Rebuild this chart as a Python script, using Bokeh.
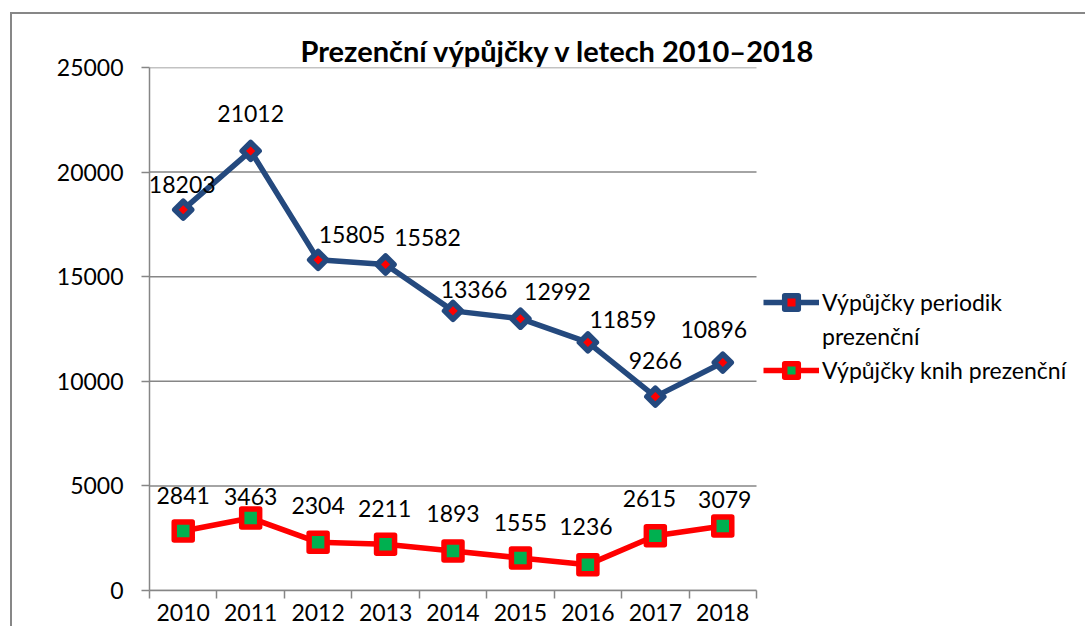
import math
from bokeh.plotting import figure
from bokeh.models import (ColumnDataSource, FixedTicker, LabelSet,
                          Legend, LegendItem, Range1d)
from bokeh.core.properties import value
from bokeh.embed import file_html
from bokeh.resources import INLINE

# ---------------- data ----------------
years = ["2010", "2011", "2012", "2013", "2014", "2015", "2016", "2017", "2018"]
periodika = [18203, 21012, 15805, 15582, 13366, 12992, 11859, 9266, 10896]
knihy = [2841, 3463, 2304, 2211, 1893, 1555, 1236, 2615, 3079]
y_ticks = [0, 5000, 10000, 15000, 20000, 25000]

title_text = "Prezenční výpůjčky v letech 2010–2018"
name_periodika = ["Výpůjčky periodik", "prezenční"]   # wrapped legend label
name_knihy = "Výpůjčky knih prezenční"

# ---------------- label placement (screen px, style only) ----------------
per_dx = [-1, 0, 34, 42, 21, 37, 35, 0, -9]
per_dy = [25, 37, 25, 27, 21, 27, 23, 36, 33]
kn_dx = [0, 0, 0, -1, 0, 0, -2, -6, 2]
kn_dy = [36, 22, 37, 36, 37, 35, 38, 37, 27]

FONT = "Lato"
FS = "23px"
GREY = "#868686"
BLUE = "#24497E"
RED = "#FF0000"
GREEN = "#00B050"

# layout (pixels)
W, H = 1075, 614
ML, MT, MB = 137, 53, 38
PLOT_W = 607            # width of the category area
FRAME_W = W - ML

n = len(years)
xpos = [i + 0.5 for i in range(n)]
x_end = n * FRAME_W / PLOT_W

src_p = ColumnDataSource(dict(x=xpos, y=periodika, t=[str(v) for v in periodika],
                              dx=per_dx, dy=per_dy))
src_k = ColumnDataSource(dict(x=xpos, y=knihy, t=[str(v) for v in knihy],
                              dx=kn_dx, dy=kn_dy))

p = figure(width=W, height=H, output_backend="svg", toolbar_location=None,
           x_range=Range1d(0, x_end), y_range=Range1d(0, 25000),
           min_border_left=ML, min_border_right=0, min_border_top=MT,
           min_border_bottom=MB)
p.margin = (12, 0, 0, 10)
# chart-area border: in the reference only its left and top edges are in view
p.styles = {"border-left": "2px solid #878787", "border-top": "2px solid #878787",
            "padding-right": "2px", "padding-bottom": "2px"}
p.outline_line_color = None
p.background_fill_color = "white"
p.border_fill_color = "white"

# title
p.title.text = title_text
p.title.text_font = FONT
p.title.text_font_size = "29px"
p.title.text_font_style = "bold"
p.title.text_color = "black"
p.title.align = "left"
p.title.offset = 151
p.title.standoff = 0

# y axis
p.yaxis.ticker = FixedTicker(ticks=y_ticks)
p.yaxis.axis_line_color = GREY
p.yaxis.axis_line_width = 1.5
p.yaxis.major_tick_line_color = GREY
p.yaxis.major_tick_line_width = 1.5
p.yaxis.major_tick_out = 8
p.yaxis.major_tick_in = 0
p.yaxis.minor_tick_line_color = None
p.yaxis.major_label_text_font = FONT
p.yaxis.major_label_text_font_size = FS
p.yaxis.major_label_text_color = "black"
p.yaxis.major_label_standoff = 18

# x axis: labels at category centres, ticks at category boundaries
p.xaxis.ticker = FixedTicker(ticks=xpos, minor_ticks=list(range(n + 1)))
p.xaxis.major_label_overrides = {x: y for x, y in zip(xpos, years)}
p.xaxis.bounds = (0, n)
p.xaxis.axis_line_color = GREY
p.xaxis.axis_line_width = 1.5
p.xaxis.major_tick_line_color = None
p.xaxis.major_tick_out = 0
p.xaxis.major_tick_in = 0
p.xaxis.minor_tick_line_color = GREY
p.xaxis.minor_tick_line_width = 1.5
p.xaxis.minor_tick_out = 8
p.xaxis.minor_tick_in = 0
p.xaxis.major_label_text_font = FONT
p.xaxis.major_label_text_font_size = FS
p.xaxis.major_label_text_color = "black"
p.xaxis.major_label_standoff = 5

# horizontal grid lines only across the category area
p.xgrid.grid_line_color = None
p.ygrid.grid_line_color = None
p.segment(x0=[0] * len(y_ticks), x1=[n] * len(y_ticks), y0=y_ticks, y1=y_ticks,
          line_color=GREY, line_width=1.5)

# series
l1 = p.line("x", "y", source=src_p, line_color=BLUE, line_width=5.5, line_join="round")
m1 = p.scatter("x", "y", source=src_p, marker="square", size=12, angle=math.pi / 4,
               fill_color=RED, line_color=BLUE, line_width=5.5, line_join="round")
l2 = p.line("x", "y", source=src_k, line_color=RED, line_width=5.5, line_join="round")
m2 = p.scatter("x", "y", source=src_k, marker="square", size=18,
               fill_color=GREEN, line_color=RED, line_width=5.5, line_join="round")

for src in (src_p, src_k):
    p.add_layout(LabelSet(x="x", y="y", text="t", x_offset="dx", y_offset="dy",
                          source=src, text_align="center", text_baseline="middle",
                          text_font=value(FONT), text_font_size=FS, text_color="black"))

legend = Legend(items=[LegendItem(label=name_periodika[0], renderers=[l1, m1]),
                       LegendItem(label=name_periodika[1], renderers=[]),
                       LegendItem(label=name_knihy, renderers=[l2, m2])],
                location=(614, 203))
legend.glyph_width = 56
legend.glyph_height = 34
legend.label_height = 27
legend.label_standoff = 3
legend.label_text_font = FONT
legend.label_text_font_size = FS
legend.label_text_color = "black"
legend.padding = 0
legend.margin = 0
legend.spacing = 0
legend.border_line_color = None
legend.background_fill_alpha = 0
p.add_layout(legend, "center")

open("out.html", "w").write(file_html(p, INLINE))
